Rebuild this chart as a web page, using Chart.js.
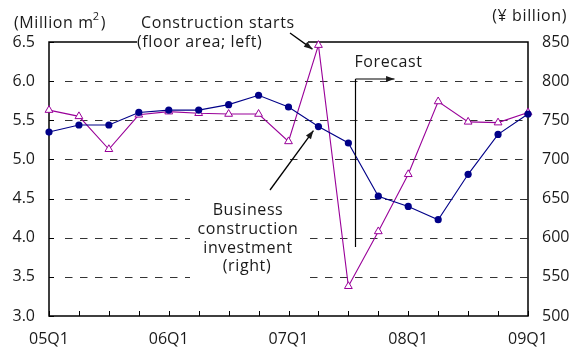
<!DOCTYPE html>
<html>
<head>
<meta charset="utf-8">
<script src="https://cdn.jsdelivr.net/npm/chart.js@4.4.1/dist/chart.umd.min.js"></script>
<style>
  html, body { margin: 0; padding: 0; background: #fff; }
</style>
</head>
<body>
<canvas id="chart" width="578" height="349"></canvas>
<script>
var quarters = ['05Q1','05Q2','05Q3','05Q4','06Q1','06Q2','06Q3','06Q4',
                '07Q1','07Q2','07Q3','07Q4','08Q1','08Q2','08Q3','08Q4','09Q1'];
// floor area, million m2 (left axis)
var starts_area = [5.63,5.55,5.13,5.57,5.61,5.59,5.58,5.58,5.23,6.46,3.38,4.08,4.81,5.74,5.48,5.47,5.60];
// business construction investment, yen billion (right axis)
var investment = [735,744,744,760,763,763,770,782,767,742,721,653,640,623,681,732,758];
var left_ticks = [3.0,3.5,4.0,4.5,5.0,5.5,6.0,6.5];
var right_ticks = [500,550,600,650,700,750,800,850];
var forecast_at = 10.25;

var PURPLE = '#990099';
var NAVY = '#000088';
var INK = '#1a1a1a';
var FONT = '"Open Sans", "Liberation Sans", sans-serif';

function arrow(ctx, x1, y1, x2, y2) {
  var a = Math.atan2(y2 - y1, x2 - x1), h = 9;
  ctx.beginPath(); ctx.moveTo(x1, y1); ctx.lineTo(x2, y2); ctx.stroke();
  ctx.beginPath();
  ctx.moveTo(x2, y2);
  ctx.lineTo(x2 - h * Math.cos(a - 0.35), y2 - h * Math.sin(a - 0.35));
  ctx.lineTo(x2 - h * Math.cos(a + 0.35), y2 - h * Math.sin(a + 0.35));
  ctx.closePath(); ctx.fill();
}

var framePlugin = {
  id: 'frame',
  beforeDatasetsDraw: function(chart) {
    var ctx = chart.ctx, a = chart.chartArea;
    var ys = chart.scales.y, xs = chart.scales.x;
    ctx.save();
    // dashed grid, broken where the text block sits
    ctx.strokeStyle = '#333';
    ctx.lineWidth = 1;
    ctx.setLineDash([7.5, 7.5]);
    left_ticks.forEach(function(v) {
      if (v === 3.0 || v === 6.5) return;
      var y = Math.round(ys.getPixelForValue(v)) + 0.5;
      var segs = v <= 4.5 ? [[a.left + 16, 190], [310, a.right]] : [[a.left + 16, a.right]];
      segs.forEach(function(s) {
        ctx.beginPath(); ctx.moveTo(s[0], y); ctx.lineTo(s[1], y); ctx.stroke();
      });
    });
    ctx.setLineDash([]);
    // axes
    ctx.strokeStyle = '#000';
    ctx.lineWidth = 1.5;
    ctx.beginPath();
    ctx.moveTo(137, a.top); ctx.lineTo(a.left, a.top); ctx.lineTo(a.left, a.bottom);
    ctx.lineTo(a.right, a.bottom); ctx.lineTo(a.right, a.top); ctx.lineTo(308, a.top);
    ctx.stroke();
    // inward tick marks
    ctx.lineWidth = 1;
    ctx.beginPath();
    quarters.forEach(function(q, i) {
      var x = Math.round(xs.getPixelForValue(i)) + 0.5;
      ctx.moveTo(x, a.bottom); ctx.lineTo(x, a.bottom - 5);
    });
    left_ticks.forEach(function(v) {
      var y = Math.round(ys.getPixelForValue(v)) + 0.5;
      ctx.moveTo(a.left, y); ctx.lineTo(a.left + 5, y);
    });
    ctx.stroke();
    ctx.restore();
  },
  afterDraw: function(chart) {
    var ctx = chart.ctx, a = chart.chartArea, xs = chart.scales.x;
    var p9 = chart.getDatasetMeta(1).data[9];   // construction starts peak
    var q9 = chart.getDatasetMeta(0).data[9];   // investment, 07Q2
    ctx.save();
    ctx.fillStyle = INK;
    ctx.strokeStyle = '#000';
    ctx.lineWidth = 1.3;
    ctx.font = '16px ' + FONT;
    ctx.letterSpacing = '0.6px';
    ctx.textBaseline = 'alphabetic';

    // axis units
    ctx.textAlign = 'left';
    var t = '(Million m';
    ctx.fillText(t, 14, 28);
    var w = ctx.measureText(t).width;
    ctx.font = '11px ' + FONT;
    ctx.fillText('2', 14 + w - 1, 20);
    ctx.font = '16px ' + FONT;
    ctx.fillText(')', 14 + w + 7, 28);
    ctx.textAlign = 'right';
    ctx.fillText('(\u00a5 billion)', 567, 21);

    // series labels
    ctx.textAlign = 'left';
    ctx.fillText('Construction starts', 141, 28);
    ctx.fillText('(floor area; left)', 137, 47);
    arrow(ctx, 290, 33, p9.x - 6, p9.y + 4);

    ctx.textAlign = 'center';
    ctx.fillText('Business', 248, 215);
    ctx.fillText('construction', 248, 234);
    ctx.fillText('investment', 248, 253);
    ctx.fillText('(right)', 247, 271);
    arrow(ctx, 270, 190, q9.x - 5, q9.y + 4);

    // forecast marker
    var step = xs.getPixelForValue(1) - xs.getPixelForValue(0);
    var fx = Math.round(xs.getPixelForValue(10) + (forecast_at - 10) * step) - 0.5;
    ctx.textAlign = 'left';
    ctx.fillText('Forecast', fx - 1, 67);
    ctx.lineWidth = 1.2;
    ctx.beginPath(); ctx.moveTo(fx, 247); ctx.lineTo(fx, 79); ctx.stroke();
    arrow(ctx, fx, 79, fx + 39, 79);
    ctx.restore();
  }
};

var ctx = document.getElementById('chart').getContext('2d');
new Chart(ctx, {
  type: 'line',
  data: {
    labels: quarters,
    datasets: [{
      label: 'Business construction investment',
      data: investment,
      yAxisID: 'y1',
      borderColor: NAVY,
      backgroundColor: NAVY,
      borderWidth: 1.1,
      pointStyle: 'circle',
      pointRadius: 3.6,
      pointBorderWidth: 0,
      tension: 0,
      clip: false,
      order: 0
    }, {
      label: 'Construction starts',
      data: starts_area,
      yAxisID: 'y',
      borderColor: PURPLE,
      backgroundColor: '#fff',
      borderWidth: 1.1,
      pointStyle: 'triangle',
      pointRadius: 4.5,
      pointBorderWidth: 1,
      pointBorderColor: PURPLE,
      tension: 0,
      clip: false,
      order: 1
    }]
  },
  options: {
    responsive: false,
    animation: false,
    events: [],
    layout: { padding: { top: 42, left: 0, right: 0, bottom: 0 } },
    plugins: { legend: { display: false }, tooltip: { enabled: false } },
    scales: {
      x: {
        type: 'category',
        offset: false,
        grid: { display: false, drawTicks: false },
        border: { display: false },
        ticks: {
          autoSkip: false, maxRotation: 0, minRotation: 0, padding: 14,
          color: INK, font: { family: FONT, size: 16 },
          callback: function(v, i) { return i % 4 === 0 ? quarters[i] : ''; }
        },
        afterFit: function(s) { s.height = 33; }
      },
      y: {
        position: 'left',
        min: 3, max: 6.5,
        afterBuildTicks: function(s) { s.ticks = left_ticks.map(function(v) { return { value: v }; }); },
        grid: { display: false, drawTicks: false },
        border: { display: false },
        ticks: {
          padding: 14, color: INK, font: { family: FONT, size: 16 },
          callback: function(v) { return v.toFixed(1); }
        },
        afterFit: function(s) { s.width = 49; }
      },
      y1: {
        position: 'right',
        min: 500, max: 850,
        afterBuildTicks: function(s) { s.ticks = right_ticks.map(function(v) { return { value: v }; }); },
        grid: { display: false, drawTicks: false },
        border: { display: false },
        ticks: { padding: 14, color: INK, font: { family: FONT, size: 16 } },
        afterFit: function(s) { s.width = 50; }
      }
    }
  },
  plugins: [framePlugin]
});
</script>
</body>
</html>
